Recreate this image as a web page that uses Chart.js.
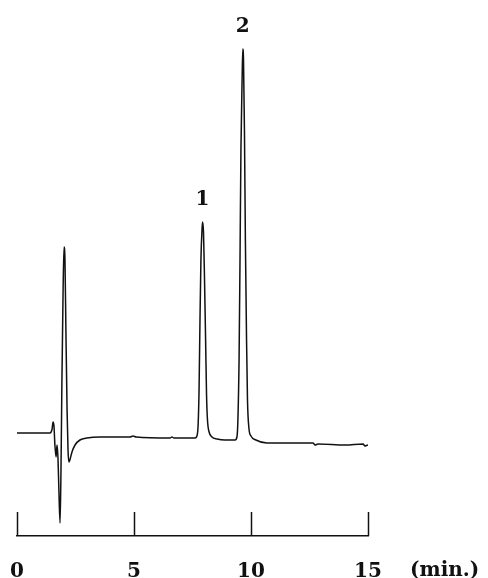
<!DOCTYPE html>
<html>
<head>
<meta charset="utf-8">
<script src="https://cdn.jsdelivr.net/npm/chart.js@4.4.1/dist/chart.umd.min.js"></script>
<style>
  html,body{margin:0;padding:0;background:#fff;}
  #wrap{width:488px;height:578px;position:relative;}
</style>
</head>
<body>
<div id="wrap"><canvas id="chart"></canvas></div>
<script>
// retention time (min) and detector signal (arb. units, 0 = starting baseline)
const timeMin = [0, 0.98, 1.41, 1.50, 1.54, 1.58, 1.62, 1.67, 1.71, 1.75,
  1.79, 1.84, 1.88, 1.92, 1.97, 2.01, 2.05, 2.09, 2.14, 2.18,
  2.22, 2.26, 2.35, 2.48, 2.69, 2.99, 3.55, 4.83, 4.96, 5.09,
  6.54, 6.62, 6.71, 7.61, 7.69, 7.74, 7.78, 7.82, 7.86, 7.91,
  7.93, 7.97, 8.01, 8.06, 8.10, 8.14, 8.21, 8.33, 8.55, 8.89,
  9.32, 9.40, 9.44, 9.49, 9.53, 9.57, 9.62, 9.65, 9.68, 9.72,
  9.76, 9.81, 9.85, 9.91, 10.00, 10.21, 10.68, 11.67, 12.65, 12.74,
  12.86, 14.02, 14.79, 14.87, 15.00, 15.21];
const signal = [0, 0, 0, 4, 11, 7, -12, -24, -12, -24,
  -57, -90, -37, 53, 143, 186, 173, 103, 23, -17,
  -29, -27, -19, -12, -7, -5, -4, -4, -3, -4,
  -5, -4, -5, -5, -3, 8, 43, 113, 173, 205,
  211, 201, 158, 93, 38, 13, 1, -4, -6, -7,
  -7, -4, 13, 73, 173, 283, 353, 384, 373, 303,
  193, 93, 33, 5, -3, -7, -10, -10, -10, -12,
  -11, -12, -11, -13, -12, -12];

const tickValues = [0, 5, 10, 15];
const peakNames = ['1', '2'];
const peakTimes = [7.93, 9.65];
const peakHeights = [211, 384];
const unitLabel = '(min.)';

const serif = 'DejaVu Serif';

const decor = {
  id: 'decor',
  afterDraw(chart){
    const {ctx, chartArea} = chart;
    const xs = chart.scales.x, ys = chart.scales.y;
    ctx.save();
    // upward tick marks on the time axis
    ctx.strokeStyle = '#111';
    ctx.lineWidth = 1.5;
    for(const v of tickValues){
      const x = Math.round(xs.getPixelForValue(v)) + 0.5;
      ctx.beginPath();
      ctx.moveTo(x, chartArea.bottom);
      ctx.lineTo(x, chartArea.bottom - 24);
      ctx.stroke();
    }
    // peak numbers
    ctx.fillStyle = '#111';
    ctx.font = `bold 20px "${serif}"`;
    ctx.textAlign = 'center';
    ctx.textBaseline = 'middle';
    peakNames.forEach((n, i)=>{
      ctx.fillText(n, xs.getPixelForValue(peakTimes[i]), ys.getPixelForValue(peakHeights[i]) - 22);
    });
    // unit label
    ctx.textAlign = 'left';
    ctx.textBaseline = 'alphabetic';
    ctx.fillText(unitLabel, xs.right + 42, 576);
    ctx.restore();
  }
};

new Chart(document.getElementById('chart'), {
  type: 'line',
  data: {
    datasets: [{
      data: timeMin.map((t, i)=>({x: t, y: signal[i]})),
      borderColor: '#111',
      borderWidth: 1.5,
      pointRadius: 0,
      cubicInterpolationMode: 'monotone',
      clip: false
    }]
  },
  options: {
    responsive: true,
    maintainAspectRatio: false,
    animation: false,
    layout: {padding: {left: 17, right: 120, top: 10, bottom: 0}},
    plugins: {legend: {display: false}, tooltip: {enabled: false}},
    scales: {
      x: {
        type: 'linear', min: 0, max: 15,
        afterBuildTicks: (axis)=>{ axis.ticks = tickValues.map(v=>({value: v})); },
        afterFit: (scale)=>{ scale.height = 42; scale.paddingLeft = 0; scale.paddingRight = 0; },
        grid: {display: false},
        border: {display: true, color: '#111', width: 1.5},
        ticks: {
          autoSkip: false, maxRotation: 0, padding: 16, color: '#111',
          font: {family: serif, weight: 'bold', size: 20}
        }
      },
      y: {
        display: false, min: -103, max: 423
      }
    }
  },
  plugins: [decor]
});
</script>
</body>
</html>
